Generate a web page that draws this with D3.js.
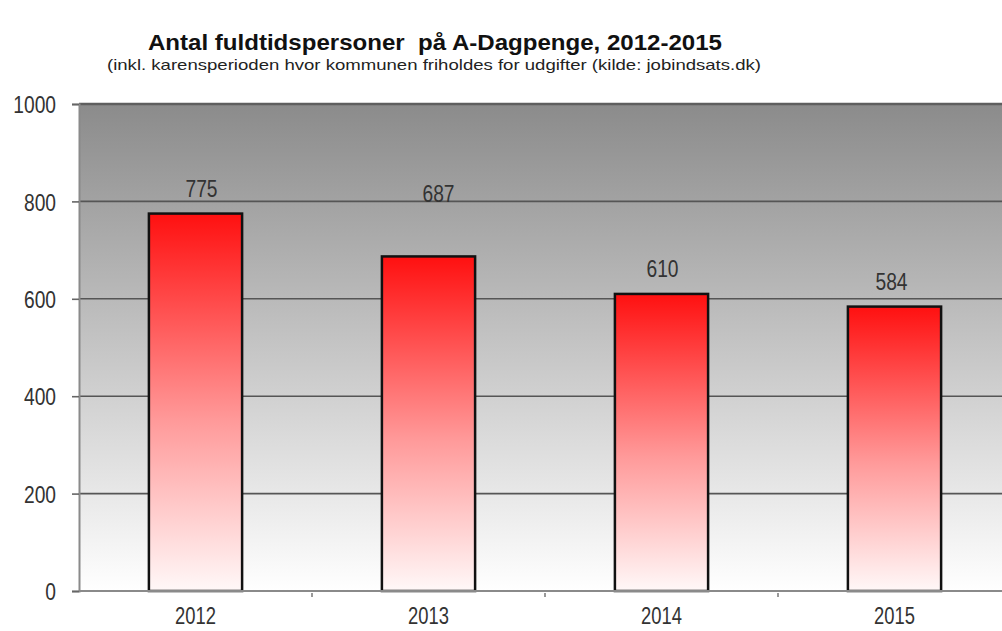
<!DOCTYPE html>
<html>
<head>
<meta charset="utf-8">
<script src="https://cdn.jsdelivr.net/npm/d3@7"></script>
<style>
  body { margin: 0; background: #fff; }
  svg { display: block; }
</style>
</head>
<body>
<div id="chart"></div>
<script>
// data
var years = ["2012", "2013", "2014", "2015"];
var persons = [775, 687, 610, 584];
var yTicks = [0, 200, 400, 600, 800, 1000];
var titleText = "Antal fuldtidspersoner  på A-Dagpenge, 2012-2015";
var subtitleText = "(inkl. karensperioden hvor kommunen friholdes for udgifter (kilde: jobindsats.dk)";

var width = 1002, height = 631;
var font = "'Liberation Sans', Arial, sans-serif";
var squeeze = 0.8; // no narrow font installed, so squeeze the regular one
var labelSize = 24;

var svg = d3.select("#chart").append("svg")
    .attr("width", width)
    .attr("height", height);

var defs = svg.append("defs");

// plot background: grey on top fading to white
var bg = defs.append("linearGradient").attr("id", "bg")
    .attr("x1", 0).attr("y1", 0).attr("x2", 0).attr("y2", 1);
bg.append("stop").attr("offset", "0%").attr("stop-color", "#8b8b8b");
bg.append("stop").attr("offset", "100%").attr("stop-color", "#ffffff");

// bars: red on top fading to white
var barGrad = defs.append("linearGradient").attr("id", "barGrad")
    .attr("x1", 0).attr("y1", 0).attr("x2", 0).attr("y2", 1);
barGrad.append("stop").attr("offset", "0%").attr("stop-color", "#ff1010");
barGrad.append("stop").attr("offset", "55%").attr("stop-color", "#ff9a9a");
barGrad.append("stop").attr("offset", "100%").attr("stop-color", "#fff8f8");

var x = d3.scaleBand().domain(years).range([79, 1011]).padding(0);
var y = d3.scaleLinear().domain([0, 1000]).range([591, 104]);

var barW = x.bandwidth() * 0.4;

// titles
svg.append("text")
    .attr("x", 435).attr("y", 50)
    .attr("text-anchor", "middle")
    .style("white-space", "pre")
    .attr("font-family", font)
    .attr("font-weight", "bold")
    .attr("font-size", 22)
    .attr("textLength", 574)
    .attr("lengthAdjust", "spacingAndGlyphs")
    .attr("fill", "#111")
    .text(titleText);

svg.append("text")
    .attr("x", 434).attr("y", 70)
    .attr("text-anchor", "middle")
    .attr("font-family", font)
    .attr("font-size", 15)
    .attr("textLength", 654)
    .attr("lengthAdjust", "spacingAndGlyphs")
    .attr("fill", "#222")
    .text(subtitleText);

// background area
svg.append("rect")
    .attr("x", x.range()[0]).attr("y", y(1000))
    .attr("width", width - x.range()[0])
    .attr("height", y(0) - y(1000))
    .attr("fill", "url(#bg)");

// gridlines
svg.append("g").selectAll("line")
    .data(yTicks.filter(function(d) { return d > 0; }))
    .enter().append("line")
    .attr("x1", x.range()[0]).attr("x2", width)
    .attr("y1", function(d) { return y(d); })
    .attr("y2", function(d) { return y(d); })
    .attr("stroke", function(d) { return d == 1000 ? "#5e5e5e" : "#555"; })
    .attr("stroke-width", function(d) { return d == 1000 ? 2.5 : 1.6; });

// y axis
var yAxis = svg.append("g")
    .attr("transform", "translate(" + x.range()[0] + ",0)")
    .call(d3.axisLeft(y).tickValues(yTicks).tickFormat(d3.format("d")).tickSize(7));
yAxis.select(".domain").attr("stroke", "#8a8a8a").attr("stroke-width", 2);
yAxis.selectAll(".tick line").attr("stroke", "#666").attr("stroke-width", 1.6);
yAxis.selectAll(".tick text")
    .attr("font-family", font)
    .attr("font-size", labelSize)
    .attr("fill", "#333")
    .attr("x", -23 / squeeze)
    .attr("dy", "0.36em")
    .attr("transform", "scale(" + squeeze + ",1)");

// bars
svg.append("g").selectAll("rect")
    .data(persons)
    .enter().append("rect")
    .attr("x", function(d, i) { return x(years[i]) + (x.bandwidth() - barW) / 2; })
    .attr("y", function(d) { return y(d); })
    .attr("width", barW)
    .attr("height", function(d) { return y(0) - y(d); })
    .attr("fill", "url(#barGrad)")
    .attr("stroke", "#111")
    .attr("stroke-width", 2.5);

// x axis line + little ticks between the years
svg.append("line")
    .attr("x1", x.range()[0]).attr("x2", width)
    .attr("y1", y(0)).attr("y2", y(0))
    .attr("stroke", "#8a8a8a").attr("stroke-width", 2);

svg.append("g").selectAll("line")
    .data(years.slice(1))
    .enter().append("line")
    .attr("x1", function(d) { return x(d); })
    .attr("x2", function(d) { return x(d); })
    .attr("y1", y(0) + 2).attr("y2", y(0) + 6)
    .attr("stroke", "#777").attr("stroke-width", 1.5);

svg.append("g").selectAll("text")
    .data(years)
    .enter().append("text")
    .attr("transform", function(d) {
        return "translate(" + (x(d) + x.bandwidth() / 2) + ",624) scale(" + squeeze + ",1)";
    })
    .attr("text-anchor", "middle")
    .attr("font-family", font)
    .attr("font-size", 23)
    .attr("fill", "#333")
    .text(function(d) { return d; });

// value labels (the 2013 one sits higher up in the original)
var nudge = [[6, 0], [10, -37], [1, 0], [-3, 0]];
svg.append("g").selectAll("text")
    .data(persons)
    .enter().append("text")
    .attr("transform", function(d, i) {
        var lx = x(years[i]) + x.bandwidth() / 2 + nudge[i][0];
        var ly = y(d) - 17 + nudge[i][1];
        return "translate(" + lx + "," + ly + ") scale(" + squeeze + ",1)";
    })
    .attr("text-anchor", "middle")
    .attr("font-family", font)
    .attr("font-size", labelSize)
    .attr("fill", "#333")
    .text(function(d) { return d; });
</script>
</body>
</html>
